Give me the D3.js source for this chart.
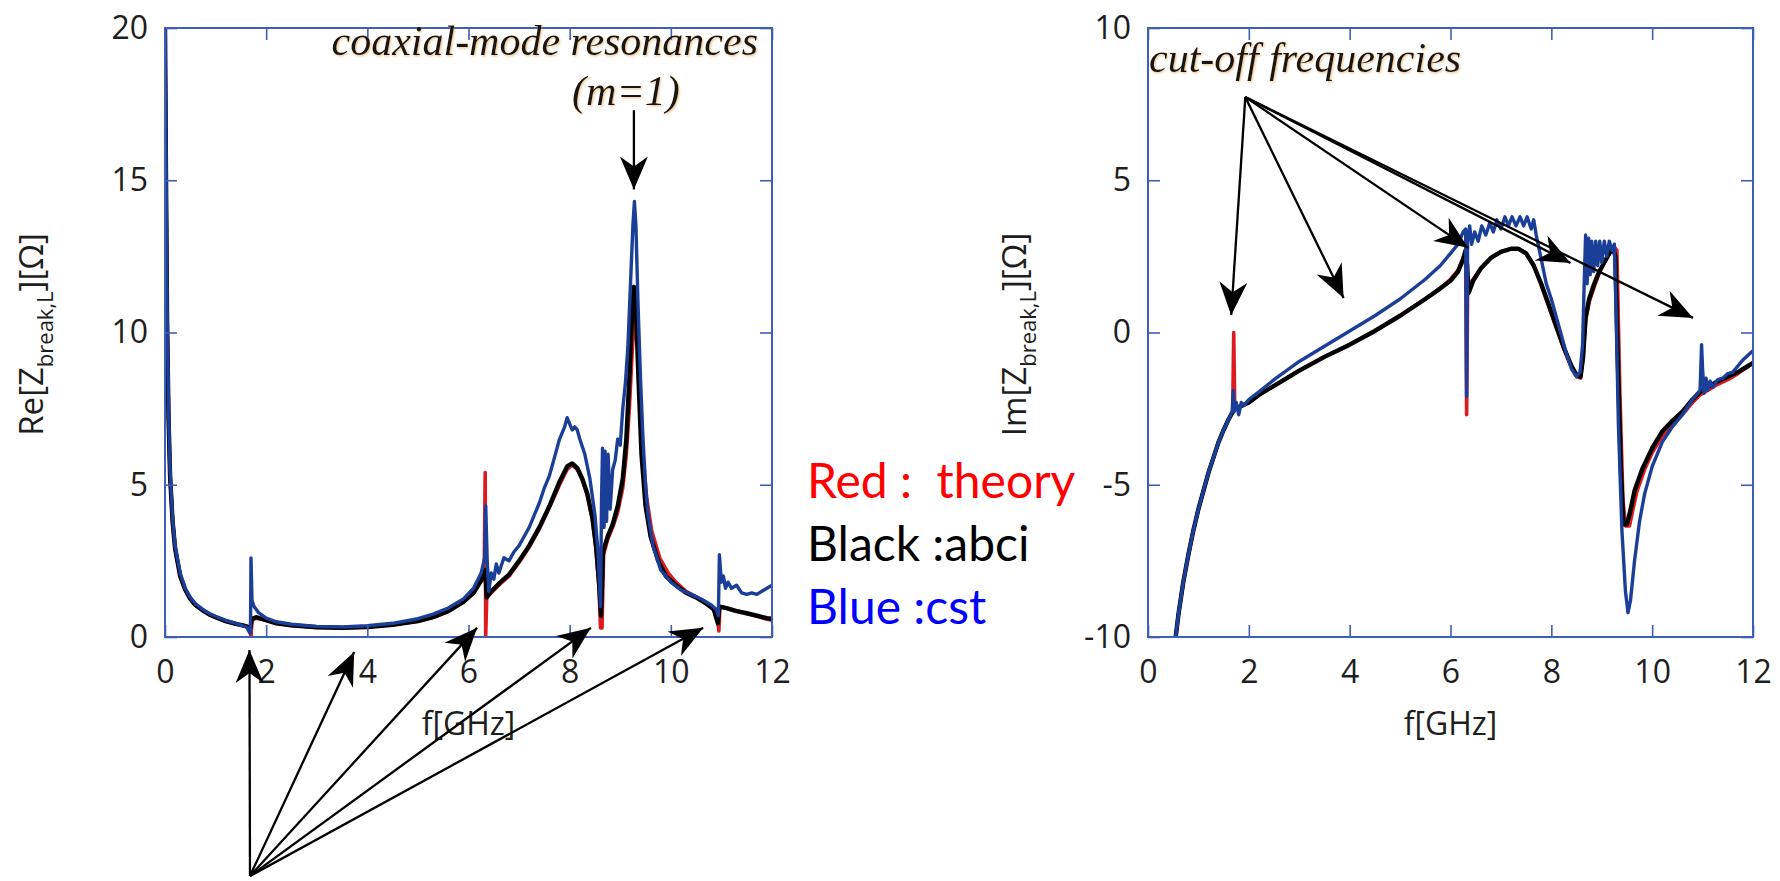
<!DOCTYPE html>
<html>
<head>
<meta charset="utf-8">
<script src="https://cdn.jsdelivr.net/npm/d3@7"></script>
<style>
  html, body { margin: 0; padding: 0; background: #ffffff; }
  svg { display: block; }
</style>
</head>
<body>
<svg id="chart" width="1780" height="881"></svg>
<script>
// ---------- tick values ----------
const freqTicks = [0, 2, 4, 6, 8, 10, 12];
const reTicks = [0, 5, 10, 15, 20];
const imTicks = [-10, -5, 0, 5, 10];

// ---------- Re[Z] : [frequency GHz, ohm] ----------
const reTheory = [
  [0,20],[0.02,15],[0.04,10.5],[0.07,7.2],[0.1,5.3],[0.15,3.8],[0.2,2.9],[0.3,2.0],[0.4,1.55],[0.5,1.25],
  [0.6,1.05],[0.75,0.87],[0.9,0.72],[1.0,0.65],[1.2,0.52],[1.4,0.43],[1.6,0.36],[1.67,0.3],[1.70,0.0],[1.72,0.55],
  [1.8,0.62],[2.0,0.55],[2.2,0.45],[2.5,0.38],[3.0,0.32],[3.5,0.3],[4.0,0.33],[4.5,0.4],[5.0,0.52],[5.3,0.65],
  [5.6,0.85],[5.9,1.15],[6.1,1.45],[6.25,1.85],[6.31,2.1],[6.33,5.4],[6.34,0.0],[6.36,1.3],[6.45,1.45],[6.6,1.7],
  [6.8,2.0],[7.0,2.45],[7.2,2.95],[7.4,3.55],[7.6,4.25],[7.8,5.0],[7.95,5.5],[8.05,5.65],[8.15,5.5],[8.25,5.15],
  [8.35,4.65],[8.45,3.85],[8.52,2.9],[8.58,1.6],[8.61,0.3],[8.64,0.3],[8.67,2.7],[8.75,3.2],[8.85,3.6],[8.95,4.1],
  [9.05,4.9],[9.12,6.0],[9.18,7.5],[9.24,9.5],[9.3,10.7],[9.34,10.3],[9.39,8.2],[9.45,6.0],[9.52,4.6],[9.62,3.5],
  [9.78,2.6],[9.95,2.1],[10.1,1.8],[10.3,1.5],[10.5,1.32],[10.7,1.12],[10.85,0.9],[10.92,0.6],[10.95,0.2],[10.97,1.0],
  [11.1,0.95],[11.3,0.85],[11.5,0.77],[11.7,0.68],[11.9,0.58],[12.0,0.55]
];
const reAbci = [
  [0,20],[0.02,15],[0.04,10.5],[0.07,7.2],[0.1,5.3],[0.15,3.8],[0.2,2.9],[0.3,2.0],[0.4,1.55],[0.5,1.25],
  [0.6,1.05],[0.75,0.87],[0.9,0.72],[1.0,0.65],[1.2,0.52],[1.4,0.43],[1.6,0.36],[1.68,0.25],[1.72,0.6],[1.8,0.65],
  [2.0,0.55],[2.2,0.45],[2.5,0.38],[3.0,0.32],[3.5,0.3],[4.0,0.33],[4.5,0.4],[5.0,0.52],[5.3,0.65],[5.6,0.85],
  [5.9,1.15],[6.1,1.45],[6.25,1.85],[6.33,2.2],[6.36,1.3],[6.45,1.5],[6.6,1.75],[6.8,2.05],[7.0,2.5],[7.2,3.0],
  [7.4,3.6],[7.6,4.3],[7.8,5.1],[7.95,5.6],[8.05,5.7],[8.15,5.55],[8.25,5.2],[8.35,4.7],[8.45,3.9],[8.52,3.0],
  [8.58,1.8],[8.62,0.7],[8.66,2.8],[8.75,3.3],[8.85,3.7],[8.95,4.3],[9.05,5.2],[9.12,6.5],[9.18,8.5],[9.23,10.5],
  [9.27,11.5],[9.31,10.8],[9.36,8.5],[9.42,6.0],[9.5,4.3],[9.6,3.3],[9.75,2.5],[9.9,2.0],[10.1,1.7],[10.3,1.45],
  [10.5,1.3],[10.7,1.1],[10.85,0.9],[10.93,0.45],[10.96,1.0],[11.1,0.95],[11.3,0.85],[11.5,0.78],[11.7,0.7],[11.9,0.62],
  [12.0,0.6]
];
const reCst = [
  [0,20],[0.02,16],[0.04,11],[0.07,7.5],[0.1,5.5],[0.15,3.9],[0.2,3.0],[0.3,2.1],[0.4,1.6],[0.5,1.3],
  [0.6,1.1],[0.75,0.9],[0.9,0.75],[1.0,0.68],[1.2,0.55],[1.4,0.45],[1.55,0.36],[1.62,0.32],[1.67,0.15],[1.69,0.12],
  [1.70,2.6],[1.72,1.2],[1.76,1.0],[1.85,0.8],[2.0,0.62],[2.2,0.5],[2.5,0.42],[3.0,0.35],[3.5,0.33],[4.0,0.37],
  [4.5,0.45],[5.0,0.6],[5.3,0.75],[5.6,0.95],[5.9,1.25],[6.1,1.6],[6.25,2.1],[6.32,2.6],[6.34,4.3],[6.37,2.5],
  [6.4,1.5],[6.45,2.1],[6.5,1.9],[6.55,2.4],[6.6,2.1],[6.7,2.6],[6.8,2.5],[6.9,2.8],[7.0,3.0],[7.1,3.3],
  [7.2,3.6],[7.3,4.0],[7.4,4.4],[7.5,4.9],[7.6,5.3],[7.7,5.9],[7.8,6.5],[7.9,6.9],[7.95,7.2],[8.0,7.0],
  [8.05,6.8],[8.1,6.9],[8.15,6.8],[8.2,6.5],[8.3,6.0],[8.4,5.2],[8.5,4.0],[8.56,2.8],[8.61,1.0],[8.63,4.5],
  [8.65,6.2],[8.68,3.6],[8.7,6.1],[8.73,3.8],[8.76,6.0],[8.8,4.2],[8.85,5.5],[8.9,5.8],[8.95,6.5],[9.0,6.3],
  [9.05,7.5],[9.1,8.3],[9.15,9.5],[9.2,11.5],[9.25,13.5],[9.28,14.3],[9.31,13.5],[9.35,11.0],[9.4,8.5],[9.45,6.5],
  [9.5,5.0],[9.55,4.0],[9.65,3.0],[9.8,2.2],[10.0,1.8],[10.2,1.55],[10.4,1.4],[10.6,1.25],[10.8,1.05],[10.9,0.9],
  [10.94,0.7],[10.96,2.7],[11.0,1.8],[11.04,2.0],[11.08,1.6],[11.13,1.8],[11.2,1.6],[11.3,1.7],[11.4,1.45],[11.5,1.4],
  [11.6,1.45],[11.7,1.4],[11.8,1.5],[11.9,1.6],[12.0,1.7]
];

// ---------- Im[Z] : [frequency GHz, ohm] ----------
const imTheory = [
  [0.55,-10],[0.6,-9.3],[0.7,-8.2],[0.8,-7.3],[0.9,-6.5],[1.0,-5.8],[1.1,-5.2],[1.2,-4.6],[1.3,-4.1],[1.4,-3.6],
  [1.5,-3.2],[1.6,-2.85],[1.68,-2.6],[1.70,0.0],[1.72,-2.45],[1.8,-2.45],[2.0,-2.3],[2.2,-2.05],[2.5,-1.75],[3.0,-1.25],
  [3.5,-0.8],[4.0,-0.4],[4.5,0.05],[5.0,0.55],[5.5,1.1],[5.8,1.45],[6.0,1.75],[6.15,2.05],[6.25,2.45],[6.3,2.7],
  [6.32,-2.7],[6.34,1.5],[6.45,1.75],[6.6,2.1],[6.8,2.45],[7.0,2.65],[7.2,2.75],[7.35,2.75],[7.5,2.6],[7.65,2.2],
  [7.8,1.55],[7.95,0.85],[8.1,0.15],[8.25,-0.55],[8.4,-1.15],[8.5,-1.45],[8.58,-1.5],[8.63,-0.8],[8.68,0.4],[8.75,1.0],
  [8.85,1.5],[8.95,1.95],[9.05,2.3],[9.15,2.6],[9.25,2.8],[9.3,2.7],[9.36,-2.0],[9.42,-5.5],[9.47,-6.35],[9.55,-6.35],
  [9.62,-5.8],[9.7,-5.2],[9.85,-4.5],[10.0,-3.95],[10.2,-3.4],[10.4,-3.0],[10.6,-2.7],[10.8,-2.3],[10.95,-2.05],[11.1,-1.9],
  [11.3,-1.7],[11.5,-1.55],[11.7,-1.35],[11.9,-1.12],[12.0,-1.0]
];
const imAbci = [
  [0.55,-10],[0.6,-9.3],[0.7,-8.2],[0.8,-7.3],[0.9,-6.5],[1.0,-5.8],[1.1,-5.2],[1.2,-4.6],[1.3,-4.1],[1.4,-3.6],
  [1.5,-3.2],[1.6,-2.85],[1.7,-2.55],[1.8,-2.45],[2.0,-2.3],[2.2,-2.05],[2.5,-1.75],[3.0,-1.25],[3.5,-0.8],[4.0,-0.4],
  [4.5,0.05],[5.0,0.55],[5.5,1.1],[5.8,1.45],[6.0,1.7],[6.15,2.0],[6.25,2.4],[6.3,2.7],[6.33,2.2],[6.36,1.3],
  [6.45,1.7],[6.6,2.1],[6.8,2.45],[7.0,2.65],[7.2,2.75],[7.35,2.75],[7.5,2.6],[7.65,2.2],[7.8,1.6],[7.95,0.9],
  [8.1,0.2],[8.25,-0.5],[8.4,-1.1],[8.5,-1.4],[8.58,-1.45],[8.63,-0.8],[8.68,0.5],[8.75,1.1],[8.85,1.6],[8.95,2.0],
  [9.05,2.3],[9.15,2.6],[9.22,2.8],[9.27,2.5],[9.32,-1.0],[9.38,-4.5],[9.43,-6.3],[9.5,-6.3],[9.56,-5.9],[9.65,-5.2],
  [9.8,-4.5],[10.0,-3.8],[10.2,-3.25],[10.4,-2.9],[10.6,-2.6],[10.8,-2.2],[10.95,-1.95],[11.1,-1.8],[11.3,-1.6],[11.5,-1.45],
  [11.7,-1.3],[11.9,-1.1],[12.0,-1.0]
];
const imCst = [
  [0.55,-10],[0.6,-9.3],[0.7,-8.2],[0.8,-7.3],[0.9,-6.5],[1.0,-5.8],[1.1,-5.2],[1.2,-4.6],[1.3,-4.1],[1.4,-3.6],
  [1.5,-3.2],[1.6,-2.85],[1.67,-2.6],[1.69,-1.9],[1.71,-2.6],[1.75,-2.3],[1.8,-2.7],[1.85,-2.3],[1.9,-2.4],[2.0,-2.2],
  [2.2,-1.95],[2.5,-1.55],[3.0,-0.95],[3.5,-0.45],[4.0,0.05],[4.5,0.55],[5.0,1.1],[5.5,1.75],[5.8,2.2],[6.0,2.6],
  [6.15,2.9],[6.25,3.3],[6.3,3.4],[6.32,-2.1],[6.34,3.0],[6.38,3.5],[6.42,2.9],[6.48,3.3],[6.55,3.0],[6.62,3.5],
  [6.7,3.2],[6.78,3.6],[6.85,3.3],[6.92,3.7],[7.0,3.4],[7.08,3.8],[7.15,3.5],[7.22,3.8],[7.3,3.5],[7.38,3.8],
  [7.45,3.5],[7.52,3.8],[7.6,3.4],[7.65,3.7],[7.7,3.2],[7.8,2.4],[7.9,1.6],[8.0,1.1],[8.1,0.5],[8.2,-0.1],
  [8.3,-0.7],[8.4,-1.2],[8.5,-1.45],[8.57,-1.3],[8.62,-0.4],[8.65,1.5],[8.68,3.2],[8.71,1.6],[8.74,3.1],[8.77,1.9],
  [8.8,3.0],[8.84,2.0],[8.88,3.0],[8.92,2.2],[8.96,3.0],[9.0,2.3],[9.05,3.0],[9.1,2.5],[9.15,3.0],[9.2,2.7],
  [9.25,2.9],[9.28,1.0],[9.33,-3.0],[9.4,-6.5],[9.47,-8.5],[9.52,-9.2],[9.57,-8.8],[9.65,-7.5],[9.75,-6.2],[9.85,-5.3],
  [10.0,-4.4],[10.2,-3.6],[10.4,-3.1],[10.6,-2.7],[10.8,-2.2],[10.95,-1.9],[10.98,-0.4],[11.0,-1.2],[11.03,-2.0],[11.07,-1.5],
  [11.1,-1.9],[11.15,-1.6],[11.2,-1.8],[11.3,-1.55],[11.4,-1.5],[11.5,-1.35],[11.6,-1.3],[11.7,-1.1],[11.8,-0.9],[11.9,-0.75],
  [12.0,-0.6]
];

// ---------- annotation arrows in data units: [fromF, fromV, toF, toV] ----------
const reArrows = [
  [1.68,-7.85,1.67,-0.43],[1.68,-7.85,3.74,-0.49],[1.68,-7.85,6.17,0.30],
  [1.68,-7.85,8.42,0.30],[1.68,-7.85,10.64,0.30],[9.27,17.3,9.27,14.7]
];
const imArrows = [
  [1.93,7.73,1.65,0.57],[1.93,7.73,3.88,1.13],[1.93,7.73,6.35,2.78],
  [1.93,7.73,8.38,2.28],[1.93,7.73,10.81,0.48]
];

const legendItems = [
  { text: "Red :  theory", color: "#ff0000" },
  { text: "Black :abci", color: "#000000" },
  { text: "Blue :cst", color: "#0000ff" }
];

const seriesColors = { theory: "#dc1a1f", abci: "#000000", cst: "#1b3f99" };
const frameColor = "#3e5fb6";
const sansFont = "'Open Sans', 'Noto Sans', sans-serif";

const svg = d3.select("#chart");
const defs = svg.append("defs");

// arrowhead with swept-back barbs
defs.append("marker")
  .attr("id", "head")
  .attr("markerUnits", "userSpaceOnUse")
  .attr("viewBox", "-33 -15 35 30")
  .attr("markerWidth", 35).attr("markerHeight", 30)
  .attr("refX", 0).attr("refY", 0)
  .attr("orient", "auto")
  .append("path")
  .attr("d", "M0,0 L-33,-14 L-23,0 L-33,14 Z")
  .attr("fill", "#000");

// warm halo around the italic captions
const halo = defs.append("filter").attr("id", "halo")
  .attr("x", "-5%").attr("y", "-30%").attr("width", "110%").attr("height", "160%");
halo.append("feDropShadow").attr("dx", 1).attr("dy", 1.2).attr("stdDeviation", 1.2)
  .attr("flood-color", "#d98a2b").attr("flood-opacity", 0.55);

function drawPanel(cfg) {
  const x = d3.scaleLinear().domain([0, 12]).range([cfg.left, cfg.left + cfg.width]);
  const y = d3.scaleLinear().domain(cfg.yDomain).range([cfg.top + cfg.height, cfg.top]);
  const g = svg.append("g");

  const clipId = "clip-" + cfg.id;
  defs.append("clipPath").attr("id", clipId)
    .append("rect").attr("x", cfg.left).attr("y", cfg.top - 1)
    .attr("width", cfg.width + 1).attr("height", cfg.height + 2);

  const line = d3.line().x(d => x(d[0])).y(d => y(d[1]));
  const plot = g.append("g").attr("clip-path", `url(#${clipId})`);
  cfg.series.forEach(s => {
    plot.append("path").datum(s.data)
      .attr("d", line)
      .attr("fill", "none")
      .attr("stroke", s.color)
      .attr("stroke-width", s.width)
      .attr("stroke-linejoin", "round")
      .attr("stroke-linecap", "butt");
  });

  const fmt = d => (d < 0 ? "-" + Math.abs(d) : String(d));
  const styleAxis = sel => {
    sel.select(".domain").remove();
    sel.selectAll(".tick line").attr("stroke", frameColor).attr("stroke-width", 1.6);
    sel.selectAll(".tick text").attr("fill", "#1e1e1e")
      .attr("font-family", sansFont).attr("font-size", 32);
  };

  g.append("g").attr("transform", `translate(0,${cfg.top + cfg.height})`)
    .call(d3.axisBottom(x).tickValues(freqTicks).tickSize(-12).tickPadding(23).tickFormat(fmt))
    .call(styleAxis);
  g.append("g").attr("transform", `translate(0,${cfg.top})`)
    .call(d3.axisTop(x).tickValues(freqTicks).tickSize(-12).tickFormat(""))
    .call(styleAxis);
  g.append("g").attr("transform", `translate(${cfg.left},0)`)
    .call(d3.axisLeft(y).tickValues(cfg.yTicks).tickSize(-12).tickPadding(17).tickFormat(fmt))
    .call(styleAxis);
  g.append("g").attr("transform", `translate(${cfg.left + cfg.width},0)`)
    .call(d3.axisRight(y).tickValues(cfg.yTicks).tickSize(-12).tickFormat(""))
    .call(styleAxis);

  g.append("rect")
    .attr("x", cfg.left).attr("y", cfg.top)
    .attr("width", cfg.width).attr("height", cfg.height)
    .attr("fill", "none").attr("stroke", frameColor).attr("stroke-width", 2);

  // axis titles
  g.append("text")
    .attr("x", cfg.left + cfg.width / 2).attr("y", cfg.top + cfg.height + 98)
    .attr("text-anchor", "middle")
    .attr("font-family", sansFont).attr("font-size", 32)
    .attr("fill", "#1e1e1e")
    .text("f[GHz]");

  const yt = g.append("text")
    .attr("transform", `translate(${cfg.left - 122},${cfg.top + cfg.height / 2 + 2}) rotate(-90)`)
    .attr("text-anchor", "middle")
    .attr("font-family", sansFont).attr("font-size", 33)
    .attr("fill", "#1e1e1e");
  yt.append("tspan").text(cfg.yTitle + "[Z");
  yt.append("tspan").attr("font-size", 22).attr("dy", 10).text("break,L");
  yt.append("tspan").attr("dy", -10).text("][Ω]");

  // annotation arrows
  cfg.arrows.forEach(a => {
    g.append("line")
      .attr("x1", x(a[0])).attr("y1", y(a[1]))
      .attr("x2", x(a[2])).attr("y2", y(a[3]))
      .attr("stroke", "#000").attr("stroke-width", 2.3)
      .attr("marker-end", "url(#head)");
  });

  return { g, x, y };
}

const left = drawPanel({
  id: "re", left: 165, top: 28, width: 607, height: 609,
  yDomain: [0, 20], yTicks: reTicks, yTitle: "Re",
  series: [
    { data: reTheory, color: seriesColors.theory, width: 3.6 },
    { data: reAbci, color: seriesColors.abci, width: 4.4 },
    { data: reCst, color: seriesColors.cst, width: 3.4 }
  ],
  arrows: reArrows
});

const right = drawPanel({
  id: "im", left: 1148, top: 28, width: 605, height: 609,
  yDomain: [-10, 10], yTicks: imTicks, yTitle: "Im",
  series: [
    { data: imTheory, color: seriesColors.theory, width: 3.6 },
    { data: imAbci, color: seriesColors.abci, width: 4.4 },
    { data: imCst, color: seriesColors.cst, width: 3.4 }
  ],
  arrows: imArrows
});

// italic captions
const capFont = "'Liberation Serif', 'Times New Roman', serif";
left.g.append("text")
  .attr("x", left.x(12) - 14).attr("y", left.y(20) + 27)
  .attr("text-anchor", "end")
  .attr("font-family", capFont).attr("font-style", "italic").attr("font-size", 42)
  .attr("fill", "#161616").attr("filter", "url(#halo)")
  .text("coaxial-mode resonances");
left.g.append("text")
  .attr("x", left.x(9.27) - 8).attr("y", left.y(20) + 77)
  .attr("text-anchor", "middle")
  .attr("font-family", capFont).attr("font-style", "italic").attr("font-size", 42)
  .attr("fill", "#161616").attr("filter", "url(#halo)")
  .text("(m=1)");
right.g.append("text")
  .attr("x", right.x(0) + 1).attr("y", right.y(10) + 44)
  .attr("font-family", capFont).attr("font-style", "italic").attr("font-size", 42)
  .attr("fill", "#161616").attr("filter", "url(#halo)")
  .text("cut-off frequencies");

// legend
const legend = svg.append("g");
legendItems.forEach((d, i) => {
  legend.append("text")
    .attr("x", 807).attr("y", 498 + i * 63)
    .attr("font-family", "Lato, 'Open Sans', sans-serif").attr("font-size", 48)
    .attr("fill", d.color)
    .attr("xml:space", "preserve")
    .style("white-space", "pre")
    .text(d.text);
});
</script>
</body>
</html>
